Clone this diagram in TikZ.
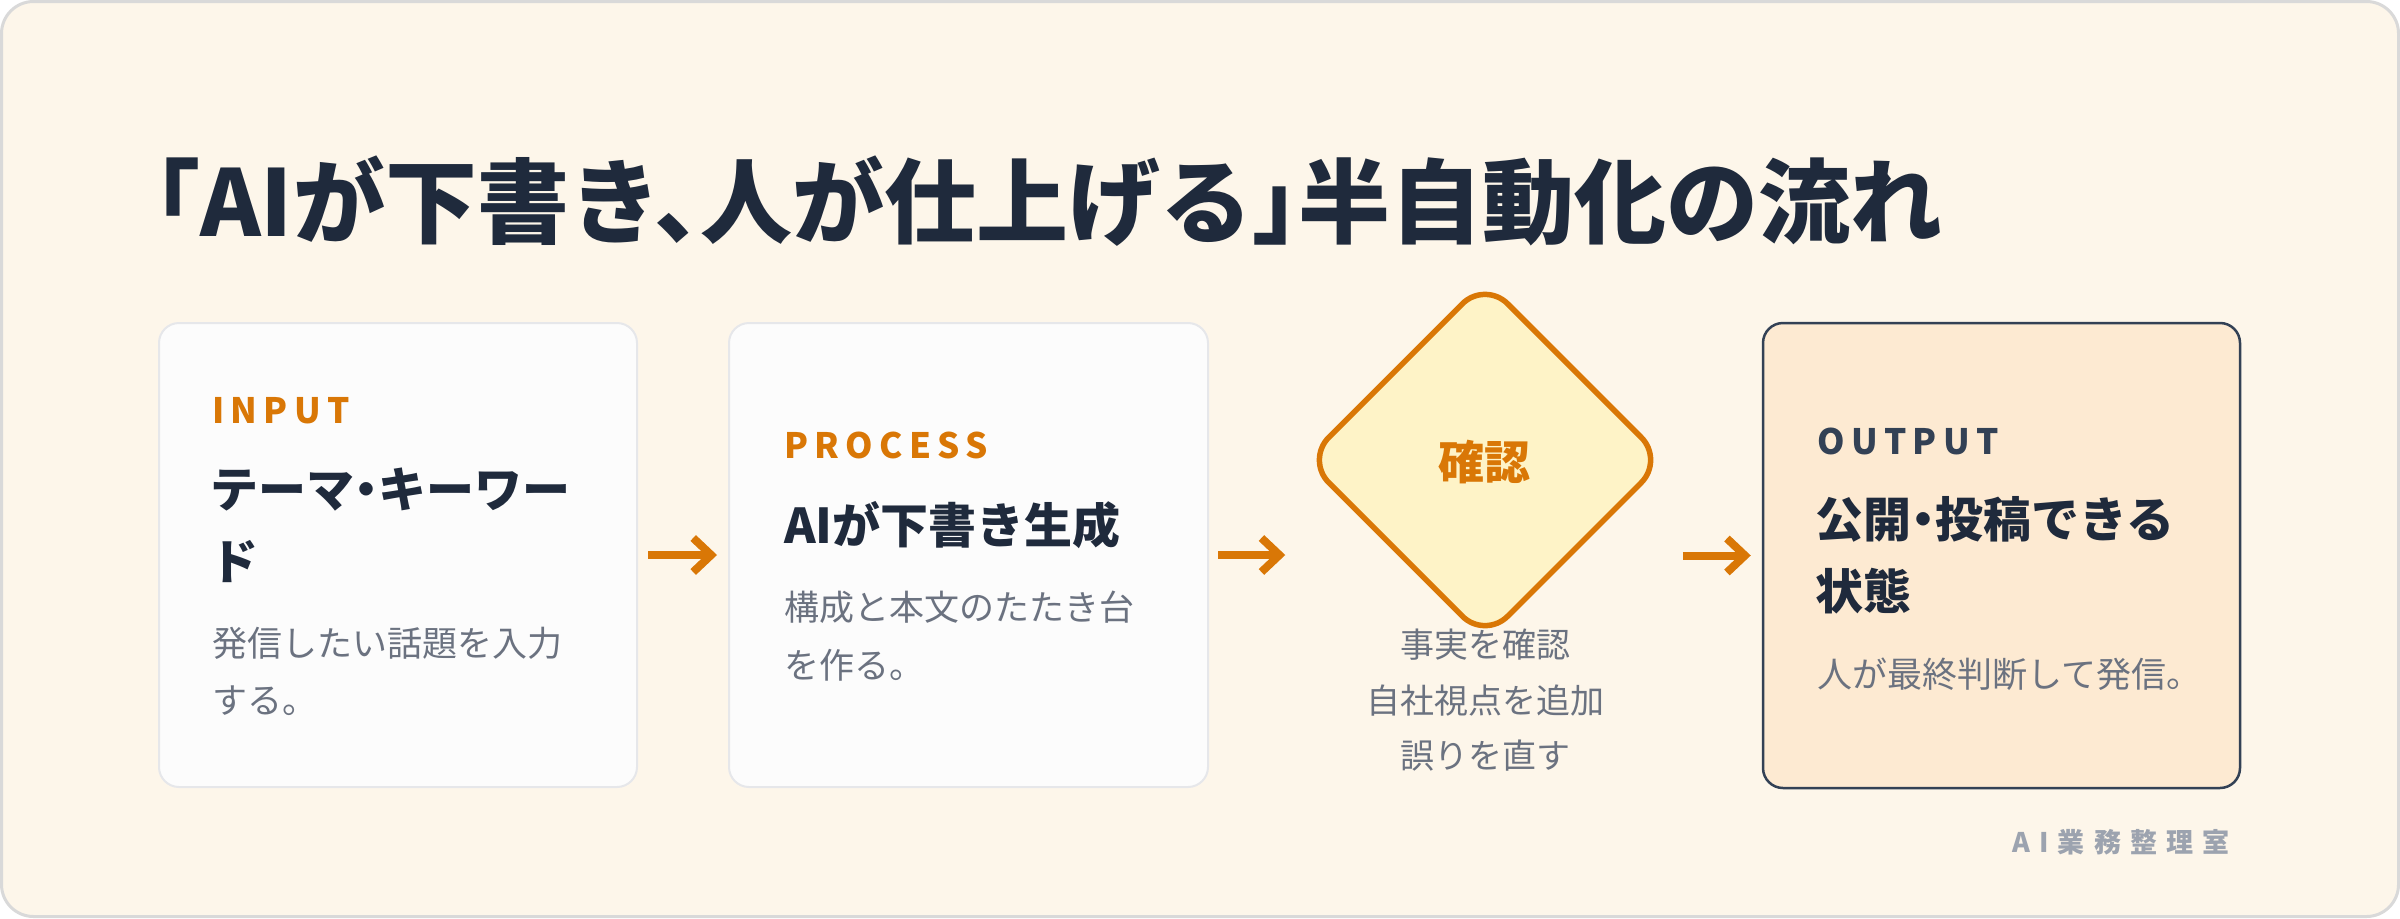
\documentclass[tikz,border=0pt]{standalone}
\usepackage{fontspec}
\setmainfont{Noto Sans CJK JP}
\newfontfamily\jp{Noto Sans CJK JP}
\newfontfamily\jphalt[RawFeature={+halt}]{Noto Sans CJK JP}
\newfontfamily\jpls[LetterSpace=18]{Noto Sans CJK JP}
\newfontfamily\jpfoot[LetterSpace=34]{Noto Sans CJK JP}
\usetikzlibrary{shapes.geometric,arrows.meta}
\definecolor{bg}{HTML}{FDF6EA}
\definecolor{frame}{HTML}{D9D9D9}
\definecolor{cardfill}{HTML}{FCFCFC}
\definecolor{cardline}{HTML}{E6E7EA}
\definecolor{accent}{HTML}{D97706}
\definecolor{inkc}{HTML}{1F2A3C}
\definecolor{slate}{HTML}{334155}
\definecolor{muted}{HTML}{6B7280}
\definecolor{faint}{HTML}{9CA3AF}
\definecolor{outfill}{HTML}{FDEAD2}
\definecolor{diafill}{HTML}{FEF3C7}
\begin{document}
\begin{tikzpicture}[x=1pt,y=-1pt,
  lbl/.style={inner sep=0pt, anchor=base west},
  clbl/.style={inner sep=0pt, anchor=base},
  card/.style={draw=cardline, fill=cardfill, line width=2pt, rounded corners=20pt, inner sep=0pt},
  outcard/.style={draw=slate, fill=outfill, line width=2.5pt, rounded corners=20pt, inner sep=0pt},
  checkbox/.style={shape=diamond, aspect=1, draw=accent, fill=diafill, line width=5.5pt, rounded corners=32pt, inner sep=0pt, minimum width=360pt, minimum height=360pt},
  flow/.style={draw=accent, line width=8pt, -{Straight Barb[length=18pt,width=34pt]}},
  tag/.style={lbl, font=\jpls\bfseries\fontsize{35}{40}\selectfont},
  head/.style={lbl, text=inkc, font=\jphalt\bfseries\fontsize{48}{56}\selectfont},
  desc/.style={lbl, text=muted, font=\jp\fontsize{35}{40}\selectfont},
]
\useasboundingbox (0,0) rectangle (2400,918);
\draw[fill=bg, draw=frame, line width=3pt, rounded corners=32pt] (1.5,1.5) rectangle (2398.5,916.5);

% title
\node[lbl, text=inkc, font=\jphalt\bfseries\fontsize{92}{100}\selectfont] (title) at (154,236) {「AIが下書き、人が仕上げる」半自動化の流れ};

% cards
\node[card, minimum width=478pt, minimum height=464pt] (input) at (398,555) {};
\node[card, minimum width=479pt, minimum height=464pt] (process) at (968.5,555) {};
\node[checkbox] (check) at (1485,460) {};
\node[outcard, minimum width=477pt, minimum height=465pt] (output) at (2001.5,555.5) {};

% input texts
\node[tag, text=accent] (inTag) at (212,423) {INPUT};
\node[head] (inHead1) at (210,507) {テーマ・キーワー};
\node[head] (inHead2) at (210,579) {ド};
\node[desc] (inDesc1) at (212,656) {発信したい話題を入力};
\node[desc] (inDesc2) at (212,713) {する。};

% process texts
\node[tag, text=accent] (prTag) at (784,458) {PROCESS};
\node[head] (prHead) at (784,543) {AIが下書き生成};
\node[desc] (prDesc1) at (784,620) {構成と本文のたたき台};
\node[desc] (prDesc2) at (784,678) {を作る。};

% check texts
\node[clbl, text=accent, font=\jp\bfseries\fontsize{46}{52}\selectfont] (chLabel) at (1484,479) {確認};
\node[clbl, text=muted, font=\jp\fontsize{34}{40}\selectfont] (chNote1) at (1485,657) {事実を確認};
\node[clbl, text=muted, font=\jp\fontsize{34}{40}\selectfont] (chNote2) at (1485,713) {自社視点を追加};
\node[clbl, text=muted, font=\jp\fontsize{34}{40}\selectfont] (chNote3) at (1485,768) {誤りを直す};

% output texts
\node[tag, text=slate] (outTag) at (1817,454) {OUTPUT};
\node[head] (outHead1) at (1815,537) {公開・投稿できる};
\node[head] (outHead2) at (1815,609) {状態};
\node[desc] (outDesc) at (1817,687) {人が最終判断して発信。};

% footer
\node[lbl, text=faint, font=\jpfoot\bfseries\fontsize{27}{32}\selectfont] (footer) at (2012,852) {AI業務整理室};

% connectors
\draw[flow, shorten <=10pt, shorten >=11pt] (input.east) -- (process.west);
\draw[flow, shorten <=9pt, shorten >=17pt] (process.east) -- (process.east -| check.west);
\draw[flow, shorten <=15pt, shorten >=11pt] (output.west -| check.east) -- (output.west);
\end{tikzpicture}
\end{document}
